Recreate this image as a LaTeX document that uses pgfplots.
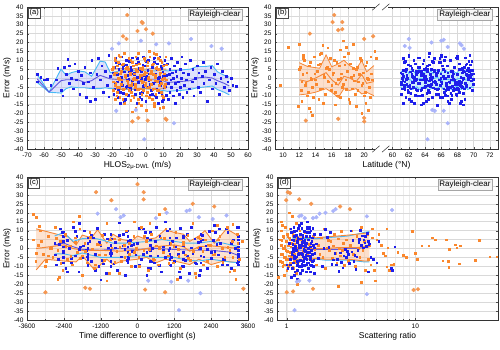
\documentclass[border=0pt]{standalone}
\usepackage{pgfplots}
\pgfplotsset{compat=1.18}
\usepackage{fontspec}
\setmainfont{Liberation Sans}
\definecolor{bpt}{RGB}{30,30,235}
\definecolor{opt}{RGB}{250,135,45}
\definecolor{bbig}{RGB}{170,180,250}
\definecolor{obig}{RGB}{245,150,80}
\definecolor{bline}{RGB}{70,185,245}
\definecolor{bmed}{RGB}{95,85,220}
\definecolor{bfill}{RGB}{185,190,250}
\definecolor{ofill}{RGB}{250,185,140}
\definecolor{oline}{RGB}{245,135,55}
\tikzset{
  tagbox/.style={draw=black!70, fill=white, inner sep=1.2pt, anchor=north west, font=\fontsize{7.5}{8}\selectfont},
  rcbox/.style={draw=gray!70, fill=gray!8, inner sep=1.6pt, anchor=north east, font=\fontsize{8}{9}\selectfont},
}
\pgfplotsset{
  panel/.style={
    scale only axis, width=221pt, height=142pt,
    ymin=-40, ymax=40, ytick={-40,-35,...,40},
    grid=both,
    major grid style={gray!30, line width=0.5pt},
    minor grid style={gray!15, line width=0.4pt},
    tick align=inside, major tick length=2pt, minor tick length=1pt,
    tick style={black!70},
    axis line style={black!80, line width=0.5pt},
    ticklabel style={font=\fontsize{6.5}{7}\selectfont},
    label style={font=\fontsize{8.5}{10}\selectfont},
    /pgf/number format/assume math mode=true,
    /pgf/number format/set thousands separator={},
    ylabel={Error (m/s)},
    ylabel shift=-4pt, xlabel shift=-3pt,
  },
  tags/.style={after end axis/.append code={
    \node[tagbox] at (rel axis cs:0.006,0.992) {(#1)};
    \node[rcbox] at (rel axis cs:0.974,0.986) {Rayleigh-clear};}},
  bp/.style={only marks, mark=square*, mark size=0.85pt, color=bpt, mark options={draw=none}},
  op/.style={only marks, mark=square*, mark size=0.85pt, color=opt, mark options={draw=none}},
  bb/.style={only marks, mark=*, mark size=1.9pt, color=bbig, mark options={draw=none}},
  ob/.style={only marks, mark=*, mark size=1.9pt, color=obig, mark options={draw=none}},
  lat2/.style={x filter/.expression={x-36.5}},
}
\begin{document}
\begin{tikzpicture}
\useasboundingbox (0pt,0pt) rectangle (500pt,349pt);

% ---------------- (a) ----------------
\begin{axis}[panel, tags=a, at={(27pt,200pt)}, xmin=-70, xmax=60, xtick={-70,-60,...,60}, minor x tick num=1,
  xlabel={HLOS\textsubscript{2μ-DWL} (m/s)}]
\addplot[bp] coordinates {(-64,2)(-64,-2)(-62,0.5)(-60,-1)(-58,-0.5)(-56,-4)(-52,5.5)(-50,-7)(-49,-10)(-48,6)(-47,2)(-46,10.5)(-45,-3)(-44,0)(-43,-6)(-42,8)(-41,-1)(-40,4)(-39,-9)(-38,1.5)(-37,-3)(-36,6)(-35,-11)(-34,-2)(-33,3)(-32,10)(-31,-5)(-30,-12)(-29,2)(-28,11)(-27,-1)(-26,7)(-25,-8)(-24,4)(-23,-4)(-22,-10.5)(-21,1)(-22,13)(-33,-13)(-53,-1)(-45,7)};
\addplot[bp] coordinates {(12.5,8)(13,-3)(13,-12)(13.5,2)(14,5)(14,-8)(14.5,-1)(15,11)(15,-5)(15.5,3)(16,-10)(16,0)(16.5,7)(17,-3)(17,-14)(17.5,4)(18,-7)(18,1)(18.5,9)(19,-2)(19.5,-9)(20,5)(20,-5)(20.5,0)(21,12)(21.5,-11)(22,3)(22.5,-4)(23,8)(23.5,-1)(24,-8)(25,2)(25.5,-6)(26,10)(27,-2)(27.5,5)(28,-10)(29,0)(30,7)(30.5,-5)(31,3)(32,-8)(33,1)(33.5,9)(34,-3)(35,4)(36,-13)(37,-1)(38,6)(39,-6)(40,2)(41,-3)(42,8)(43,-9)(44,0)(45,4)(46,-5)(47,1)(48,-2)(49,-7)(50,0)(51,-4)(53,-4.5)};
\addplot[bp] coordinates {(-19.5,3)(-19,-9)(-18.5,-6)(-18,11)(-17.5,9)(-17,-2)(-16.5,-11)(-16,5)(-15.5,0)(-15,-8)(-14.5,12)(-14,-4)(-13.5,7)(-13,-13)(-12.5,1)(-12,-5)(-11.5,10)(-11,-1)(-10.5,-9.5)(-10,4)(-9.5,-7)(-9,6)(-8.5,-3)(-8,11.5)(-7.5,-10)(-7,2)(-6.5,-6.5)(-6,8)(-5.5,-14)(-5,0.5)(-4.5,-2.5)(-4,5.5)(-3.5,-8.5)(-3,3.5)(-2.5,-12)(-2,7.5)(-1.5,-4.5)(-1,1.5)(-0.5,-0.5)(0,9.5)(0.5,-5.5)(1,4.5)(1.5,-1.5)(2,2.5)(2.5,-3.5)(3,3)(3.5,-9)(4,-6)(4.5,11)(5,9)(5.5,-2)(6,-11)(6.5,5)(7,0)(7.5,-8)(8,12)(8.5,-4)(9,7)(9.5,-13)(10,1)(10.5,-5)(11,10)(11.5,-1)(12,-9.5)
(-19.25,-7)(-18.75,6)(-18.25,-3)(-17.75,11.5)(-17.25,-10)(-16.75,2)(-16.25,-6.5)(-15.75,8)(-15.25,-14)(-14.75,0.5)(-14.25,-2.5)(-13.75,5.5)(-13.25,-8.5)(-12.75,3.5)(-12.25,-12)(-11.75,7.5)(-11.25,-4.5)(-10.75,1.5)(-10.25,-0.5)(-9.75,9.5)(-9.25,-5.5)(-8.75,4.5)(-8.25,-1.5)(-7.75,2.5)(-7.25,-3.5)(-6.75,3)(-6.25,-9)(-5.75,-6)(-5.25,11)(-4.75,9)(-4.25,-2)(-3.75,-11)(-3.25,5)(-2.75,0)(-2.25,-8)(-1.75,12)(-1.25,-4)(-0.75,7)(-0.25,-13)(0.25,1)(0.75,-5)(1.25,10)(1.75,-1)(2.25,-9.5)(2.75,4)(3.25,-7)(3.75,6)(4.25,-3)(4.75,11.5)(5.25,-10)(5.75,2)(6.25,-6.5)(6.75,8)(7.25,-14)(7.75,0.5)(8.25,-2.5)(8.75,5.5)(9.25,-8.5)(9.75,3.5)(10.25,-12)(10.75,7.5)(11.25,-4.5)(11.75,1.5)};
\addplot[op] coordinates {(-19.75,5)(-19.25,-7)(-18.75,2)(-18.25,10)(-17.75,-3)(-17.25,-10)(-16.75,7)(-16.25,0)(-15.75,-5)(-15.25,12)(-14.75,-1)(-14.25,4)(-13.75,-12)(-13.25,8)(-12.75,-6)(-12.25,1.5)(-11.75,-9)(-11.25,6)(-10.75,-2)(-10.25,11)(-9.75,-4)(-9.25,3)(-8.75,-8)(-8.25,9)(-7.75,-0.5)(-7.25,-11)(-6.75,2.5)(-6.25,-3.5)(-5.75,7.5)(-5.25,-6.5)(-4.75,14)(-4.25,-14)(-3.75,0.5)(-3.25,5.5)(-2.75,-1.5)(-2.25,5)(-1.75,-7)(-1.25,2)(-0.75,10)(-0.25,-3)(0.25,-10)(0.75,7)(1.25,0)(1.75,-5)(2.25,12)(2.75,-1)(3.25,4)(3.75,-12)(4.25,8)(4.75,-6)(5.25,1.5)(5.75,-9)(6.25,6)(6.75,-2)(7.25,11)(7.75,-4)(8.25,3)(8.75,-8)(9.25,9)(9.75,-0.5)(10.25,-11)(10.75,2.5)(11.25,-3.5)(11.75,7.5)
(-19.5,6)(-19,-2)(-18.5,11)(-18,-4)(-17.5,3)(-17,-8)(-16.5,9)(-16,-0.5)(-15.5,-11)(-15,2.5)(-14.5,-3.5)(-14,7.5)(-13.5,-6.5)(-13,14)(-12.5,-14)(-12,0.5)(-11.5,5.5)(-11,-1.5)(-10.5,5)(-10,-7)(-9.5,2)(-9,10)(-8.5,-3)(-8,-10)(-7.5,7)(-7,0)(-6.5,-5)(-6,12)(-5.5,-1)(-5,4)(-4.5,-12)(-4,8)(-3.5,-6)(-3,1.5)(-2.5,-9)(-2,6)(-1.5,-2)(-1,11)(-0.5,-4)(0,3)(0.5,-8)(1,9)(1.5,-0.5)(2,-11)(2.5,2.5)(3,-3.5)(3.5,7.5)(4,-6.5)(4.5,14)(5,-14)(5.5,0.5)(6,5.5)(6.5,-1.5)(7,5)(7.5,-7)(8,2)(8.5,10)(9,-3)(9.5,-10)(10,7)(10.5,0)(11,-5)(11.5,12)(12,-1)
(-19.6,-2)(-18.35,3)(-17.1,-5)(-15.85,0)(-14.6,4)(-13.35,-6)(-12.1,1)(-10.85,-3)(-9.6,2.5)(-8.35,-4)(-7.1,-1)(-5.85,4.5)(-4.6,-6.5)(-3.35,1.5)(-2.1,-2.5)(-0.85,3.5)(0.4,-5.5)(1.65,0.5)(2.9,-3.5)(4.15,2)(5.4,-1.5)(6.65,-7)(7.9,5)(9.15,-0.5)(10.4,-4.5)
(-13,-14.5)(-6,-17)(5,-16)(8,-17)(10,-16.5)(-16,13)(2,15)(-3,-15.5)(-9,-12.5)(6,13.5)(-8,-19)(0,-18)(-18,-12)};
\addplot[bb] coordinates {(-16,19.5)(-20,16.5)(13.5,19.5)(6,19)(26.5,22)(38.5,18)(44.5,16.5)(-17.5,-18.5)(-6,-18)(-1,-34.5)(16.5,-25.5)(-3,21)};
\addplot[ob] coordinates {(-11,35.5)(-2.5,31.5)(-2,31)(-5,26.5)(0,27.5)(4,25)(-13.5,23.5)(-11.5,22)(-8,-24.5)(-4.5,-22.5)(1,-24)(11.5,-23)(12,-23.5)};
\addplot[fill=bfill, fill opacity=0.45, draw=none] coordinates {(-64,2)(-57,-8)(-50,5)(-47,1.5)(-44,3)(-40,4)(-36,3.5)(-32,1)(-27,9.5)(-24,9)(-21,3)(-15,4)(-10,4.5)(-5,4)(0,4.5)(5,4)(10,4.5)(12.5,4)(20,4.5)(26,5)(30,6.5)(35,6.5)(39,7)(42,3.5)(46,1.5)(49,0.5)
(49,-9.5)(46,-8)(42,-6.5)(39,-4.5)(35,-5)(30,-5.5)(26,-6.5)(20,-7)(12.5,-7.5)(10,-7)(5,-6.5)(0,-6)(-5,-6)(-10,-6.5)(-15,-6)(-21,-6)(-24,-5.5)(-27,-6)(-32,-6)(-36,-5.5)(-40,-5.5)(-44,-5)(-47,-6)(-50,-8.5)(-57,-8)(-64,-2.5)};
\addplot[bline, line width=0.9pt] coordinates {(-64,2)(-57,-8)(-50,5)(-47,1.5)(-44,3)(-40,4)(-36,3.5)(-32,1)(-27,9.5)(-24,9)(-21,3)(-15,4)(-10,4.5)(-5,4)(0,4.5)(5,4)(10,4.5)(12.5,4)(20,4.5)(26,5)(30,6.5)(35,6.5)(39,7)(42,3.5)(46,1.5)(49,0.5)};
\addplot[bline, line width=0.9pt] coordinates {(-64,-2.5)(-57,-8)(-50,-8.5)(-47,-6)(-44,-5)(-40,-5.5)(-36,-5.5)(-32,-6)(-27,-6)(-24,-5.5)(-21,-6)(-15,-6)(-10,-6.5)(-5,-6)(0,-6)(5,-6.5)(10,-7)(12.5,-7.5)(20,-7)(26,-6.5)(30,-5.5)(35,-5)(39,-4.5)(42,-6.5)(46,-8)(49,-9.5)};
\addplot[bmed, line width=0.9pt] coordinates {(-64,-0.5)(-57,-8)(-50,-1.5)(-47,-1)(-44,-1)(-40,-1)(-36,-2.5)(-32,-1.5)(-27,1.5)(-24,0.5)(-21,-0.5)(-15,-1)(-10,-1)(-5,-1.5)(0,-1)(5,-1)(10,-1.5)(12.5,-2.5)(20,-2)(26,-1.5)(30,0)(35,0.5)(39,0)(42,-1.5)(46,-3)(49,-4.5)};
\addplot[fill=ofill, fill opacity=0.25, draw=none] coordinates {(-19,5)(-15,5.5)(-10,5)(-5,5.5)(0,5)(5,5.5)(10,5)(12,5)(12,-6)(10,-6)(5,-6.5)(0,-6)(-5,-6.5)(-10,-6)(-15,-6.5)(-19,-6)};
\addplot[oline!70!gray, line width=0.8pt] coordinates {(-19,5)(-15,5.5)(-10,5)(-5,5.5)(0,5)(5,5.5)(10,5)(12,5)};
\addplot[oline!70!gray, line width=0.8pt] coordinates {(-19,-6)(-15,-6.5)(-10,-6)(-5,-6.5)(0,-6)(5,-6.5)(10,-6)(12,-6)};
\end{axis}

% ---------------- (b) ----------------
\begin{axis}[panel, tags=b, at={(275pt,200pt)}, width=223pt, xmin=9, xmax=36.5,
  xtick={10,12,14,16,18,20,23.5,25.5,27.5,29.5,31.5,33.5,35.5},
  xticklabels={10,12,14,16,18,20,60,62,64,66,68,70,72},
  minor xtick={9,11,13,15,17,19,21,24.5,26.5,28.5,30.5,32.5,34.5,36.5},
  xlabel={Latitude (°N)},
  after end axis/.append code={
    \fill[white] (axis cs:21.3,38.6) rectangle (axis cs:22.9,41.4);
    \fill[white] (axis cs:21.3,-41.4) rectangle (axis cs:22.9,-38.6);
    \draw[black!80, line width=0.5pt] (axis cs:21.0,38.2) -- (axis cs:21.9,41.8) (axis cs:22.2,38.2) -- (axis cs:23.1,41.8);
    \draw[black!80, line width=0.5pt] (axis cs:21.0,-41.8) -- (axis cs:21.9,-38.2) (axis cs:22.2,-41.8) -- (axis cs:23.1,-38.2);
  }]
\addplot[op] coordinates {(12.0,5)(12.2,-7)(12.4,2)(12.6,10)(12.8,-3)(13.0,-10)(13.2,7)(13.4,0)(13.6,-5)(13.8,12)(14.0,-1)(14.2,4)(14.4,-12)(14.6,8)(14.8,-6)(15.0,1.5)(15.2,-9)(15.4,6)(15.6,-2)(15.8,11)(16.0,-4)(16.2,3)(16.4,-8)(16.6,9)(16.8,-0.5)(17.0,-11)(17.2,2.5)(17.4,-3.5)(17.6,7.5)(17.8,-6.5)(18.0,14)(18.2,-14)(18.4,0.5)(18.6,5.5)(18.8,-1.5)(19.0,5)(19.2,-7)(19.4,2)(19.6,10)(19.8,-3)(20.0,-10)(20.2,7)(20.4,0)(20.6,-5)(20.8,12)(21.0,-1)
(12.1,6)(12.3,-2)(12.5,11)(12.7,-4)(12.9,3)(13.1,-8)(13.3,9)(13.5,-0.5)(13.7,-11)(13.9,2.5)(14.1,-3.5)(14.3,7.5)(14.5,-6.5)(14.7,14)(14.9,-14)(15.1,0.5)(15.3,5.5)(15.5,-1.5)(15.7,5)(15.9,-7)(16.1,2)(16.3,10)(16.5,-3)(16.7,-10)(16.9,7)(17.1,0)(17.3,-5)(17.5,12)(17.7,-1)(17.9,4)(18.1,-12)(18.3,8)(18.5,-6)(18.7,1.5)(18.9,-9)(19.1,6)(19.3,-2)(19.5,11)(19.7,-4)(19.9,3)(20.1,-8)(20.3,9)(20.5,-0.5)(20.7,-11)(20.9,2.5)
(9.6,-4)(10.6,17.5)(11.9,-16)(12,19)(12.3,-13)(13.2,-17)(13.4,-19)(13.6,-21)(15,-14)(15.5,17)(17,16)(17.8,17.5)(18.6,19)(19,-16)(19.7,-20)(20.5,-18)(21.3,15)(21.5,11)(14.5,13.5)(16.4,-15)(18.2,-13.5)(12.5,13)(20.2,-14)(17.4,21)(14.9,18.5)};
\addplot[ob] coordinates {(13.3,25)(12.8,-24)(16.3,35.5)(16.1,31.5)(17.3,31.5)(17.3,27.5)(16.8,27)(16.8,-23)(20,22)(20,-22.5)(20,-24.5)(21.1,23.5)};
\addplot[fill=ofill, fill opacity=0.45, draw=none] coordinates {(12,8.6)(13,6.5)(14.5,5.5)(15.3,13)(16,6.3)(16.8,8)(17.5,10)(18.2,7)(19,5)(19.7,9.8)(20.3,3.5)(21.2,7)
(21.2,-10)(20.3,-8)(19.7,-9)(19,-6)(18.2,-7)(17.5,-6)(16.8,-11)(16,-8)(15.3,-6)(14,-8)(13,-9)(12,-9.5)};
\addplot[oline, line width=0.8pt] coordinates {(12,8.6)(13,6.5)(14.5,5.5)(15.3,13)(16,6.3)(16.8,8)(17.5,10)(18.2,7)(19,5)(19.7,9.8)(20.3,3.5)(21.2,7)};
\addplot[oline, line width=0.8pt] coordinates {(12,-9.5)(13,-9)(14,-8)(15.3,-6)(16,-8)(16.8,-11)(17.5,-6)(18.2,-7)(19,-6)(19.7,-9)(20.3,-8)(21.2,-10)};
\addplot[oline, line width=0.9pt] coordinates {(12,-1)(13,-2)(14,0)(15.3,3)(16,-1)(16.8,-4)(17.5,1)(18.2,0)(19,-2)(19.7,2)(20.3,-3)(21.2,-2)};
\addplot[bp, lat2] coordinates {(61.0,3)(61.1,-9)(61.2,-6)(61.3,11)(61.4,9)(61.5,-2)(61.6,-11)(61.7,5)(61.8,0)(61.9,-8)(62.0,12)(62.1,-4)(62.2,7)(62.3,-13)(62.4,1)(62.5,-5)(62.6,10)(62.7,-1)(62.8,-9.5)(62.9,4)(63.0,-7)(63.1,6)(63.2,-3)(63.3,11.5)(63.4,-10)(63.5,2)(63.6,-6.5)(63.7,8)(63.8,-14)(63.9,0.5)(64.0,-2.5)(64.1,5.5)(64.2,-8.5)(64.3,3.5)(64.4,-12)(64.5,7.5)(64.6,-4.5)(64.7,1.5)(64.8,-0.5)(64.9,9.5)(65.0,-5.5)(65.1,4.5)(65.2,-1.5)(65.3,2.5)(65.4,-3.5)
(65.5,3)(65.6,-9)(65.7,-6)(65.8,11)(65.9,9)(66.0,-2)(66.1,-11)(66.2,5)(66.3,0)(66.4,-8)(66.5,12)(66.6,-4)(66.7,7)(66.8,-13)(66.9,1)(67.0,-5)(67.1,10)(67.2,-1)(67.3,-9.5)(67.4,4)(67.5,-7)(67.6,6)(67.7,-3)(67.8,11.5)(67.9,-10)(68.0,2)(68.1,-6.5)(68.2,8)(68.3,-14)(68.4,0.5)(68.5,-2.5)(68.6,5.5)(68.7,-8.5)(68.8,3.5)(68.9,-12)(69.0,7.5)(69.1,-4.5)(69.2,1.5)(69.3,-0.5)(69.4,9.5)(69.5,-5.5)(69.6,4.5)(69.7,-1.5)(69.8,2.5)(69.9,-3.5)
(61.05,-3.5)(61.15,2.5)(61.25,-1.5)(61.35,4.5)(61.45,-5.5)(61.55,9.5)(61.65,-0.5)(61.75,1.5)(61.85,-4.5)(61.95,7.5)(62.05,-12)(62.15,3.5)(62.25,-8.5)(62.35,5.5)(62.45,-2.5)(62.55,0.5)(62.65,-14)(62.75,8)(62.85,-6.5)(62.95,2)(63.05,-10)(63.15,11.5)(63.25,-3)(63.35,6)(63.45,-7)(63.55,4)(63.65,-9.5)(63.75,-1)(63.85,10)(63.95,-5)(64.05,1)(64.15,-13)(64.25,7)(64.35,-4)(64.45,12)(64.55,-8)(64.65,0)(64.75,5)(64.85,-11)(64.95,-2)(65.05,9)(65.15,11)(65.25,-6)(65.35,-9)(65.45,3)
(65.55,3)(65.65,-6)(65.75,9)(65.85,-11)(65.95,0)(66.05,12)(66.15,7)(66.25,1)(66.35,10)(66.45,-9.5)(66.55,-7)(66.65,-3)(66.75,-10)(66.85,-6.5)(66.95,-14)(67.05,-2.5)(67.15,-8.5)(67.25,-12)(67.35,-4.5)(67.45,-0.5)(67.55,-5.5)(67.65,-1.5)(67.75,-3.5)(67.85,-9)(67.95,11)(68.05,-2)(68.15,5)(68.25,-8)(68.35,-4)(68.45,-13)(68.55,-5)(68.65,-1)(68.75,4)(68.85,6)(68.95,11.5)(69.05,2)(69.15,8)(69.25,0.5)(69.35,5.5)(69.45,3.5)(69.55,7.5)(69.65,1.5)(69.75,9.5)(69.85,4.5)(69.95,2.5)
(61.03,-2)(61.15,0)(61.27,1)(61.39,-4)(61.51,-6.5)(61.63,3.5)(61.75,-3.5)(61.87,-7)(61.99,-4.5)(62.11,-5)(62.23,-6)(62.35,2.5)(62.47,4.5)(62.59,-2.5)(62.71,0.5)(62.83,-1.5)(62.95,-0.5)(63.07,3)(63.19,4)(63.31,-3)(63.43,-1)(63.55,1.5)(63.67,-5.5)(63.79,2)(63.91,5)
(64.03,-4.5)(64.15,-0.5)(64.27,5)(64.39,-7)(64.51,-1.5)(64.63,2)(64.75,-3.5)(64.87,0.5)(64.99,-5.5)(65.11,3.5)(65.23,-2.5)(65.35,1.5)(65.47,-6.5)(65.59,4.5)(65.71,-1)(65.83,-4)(65.95,2.5)(66.07,-3)(66.19,1)(66.31,-6)(66.43,4)(66.55,0)(66.67,-5)(66.79,3)(66.91,-2)
(67.03,-2)(67.15,-5)(67.27,4)(67.39,1)(67.51,2.5)(67.63,-1)(67.75,-6.5)(67.87,-2.5)(67.99,-5.5)(68.11,-3.5)(68.23,-1.5)(68.35,5)(68.47,-4.5)(68.59,3)(68.71,0)(68.83,-6)(68.95,-3)(69.07,-4)(69.19,4.5)(69.31,1.5)(69.43,3.5)(69.55,0.5)(69.67,2)(69.79,-7)(69.91,-0.5)
(61.3,-14)(62,13)(63.5,-15)(64.5,14)(65.5,-15.5)(66,13)(67,-14.5)(68,12.5)(68.7,-15)(69.5,13)};
\addplot[fill=bline!60!white, fill opacity=0.45, draw=none, lat2] coordinates {(61,3)(61.25,4.5)(61.5,3.5)(61.75,5)(62,2.5)(62.25,4)(62.5,4.5)(62.75,3)(63,3.5)(63.25,5)(63.5,4)(63.75,3)(64,3.5)(64.25,4.5)(64.5,3)(64.75,4)(65,2.5)(65.25,4)(65.5,4.5)(65.75,3.5)(66,3)(66.25,5)(66.5,4.5)(66.75,3.5)(67,3.5)(67.25,4.5)(67.5,4)(67.75,3)(68,3)(68.25,5)(68.5,5.5)(68.75,4)(69,4)(69.25,5.5)(69.5,5)(69.75,4)(70,4)
(70,-5.5)(69.75,-5)(69.5,-6)(69.25,-6.5)(69,-5)(68.75,-5.5)(68.5,-6.5)(68.25,-6)(68,-4.5)(67.75,-5)(67.5,-6)(67.25,-6.5)(67,-5.5)(66.75,-6)(66.5,-7)(66.25,-6.5)(66,-5)(65.75,-5)(65.5,-6)(65.25,-6.5)(65,-5.5)(64.75,-6)(64.5,-7)(64.25,-6)(64,-4.5)(63.75,-5)(63.5,-6)(63.25,-6.5)(63,-5)(62.75,-5.5)(62.5,-6.5)(62.25,-6)(62,-4.5)(61.75,-5)(61.5,-6)(61.25,-6.5)(61,-5)};
\addplot[bline, line width=0.8pt, lat2] coordinates {(61,3)(61.25,4.5)(61.5,3.5)(61.75,5)(62,2.5)(62.25,4)(62.5,4.5)(62.75,3)(63,3.5)(63.25,5)(63.5,4)(63.75,3)(64,3.5)(64.25,4.5)(64.5,3)(64.75,4)(65,2.5)(65.25,4)(65.5,4.5)(65.75,3.5)(66,3)(66.25,5)(66.5,4.5)(66.75,3.5)(67,3.5)(67.25,4.5)(67.5,4)(67.75,3)(68,3)(68.25,5)(68.5,5.5)(68.75,4)(69,4)(69.25,5.5)(69.5,5)(69.75,4)(70,4)};
\addplot[bline, line width=0.8pt, lat2] coordinates {(61,-5)(61.25,-6.5)(61.5,-6)(61.75,-5)(62,-4.5)(62.25,-6)(62.5,-6.5)(62.75,-5.5)(63,-5)(63.25,-6.5)(63.5,-6)(63.75,-5)(64,-4.5)(64.25,-6)(64.5,-7)(64.75,-6)(65,-5.5)(65.25,-6.5)(65.5,-6)(65.75,-5)(66,-5)(66.25,-6.5)(66.5,-7)(66.75,-6)(67,-5.5)(67.25,-6.5)(67.5,-6)(67.75,-5)(68,-4.5)(68.25,-6)(68.5,-6.5)(68.75,-5.5)(69,-5)(69.25,-6.5)(69.5,-6)(69.75,-5)(70,-5.5)};
\addplot[bline, line width=0.8pt, lat2] coordinates {(61,-1)(61.5,0)(62,-0.5)(62.5,-2)(63,-1.5)(63.5,0)(64,-1)(64.5,-2)(65,-0.5)(65.5,0.5)(66,-1.5)(66.5,-0.5)(67,-1)(67.5,-2)(68,-0.5)(68.5,0)(69,-1)(69.5,-1.5)(70,-1)};
\addplot[bb, lat2] coordinates {(61.5,18)(62,22)(62.1,17)(64.8,20)(66,21)(66.3,21.5)(66.8,17.5)(68.3,19.5)(68.5,18.5)(68.8,16.5)(64.3,-34.5)(64.9,-18)(65.2,-18.5)(66.3,-18.5)(66.8,-25.5)};
\end{axis}

% ---------------- (c) ----------------
\begin{axis}[panel, tags=c, at={(27pt,29pt)}, height=143pt, xmin=-3600, xmax=3600, xtick={-3600,-2400,...,3600}, minor x tick num=1,
  xlabel={Time difference to overflight (s)}]
\addplot[bp] coordinates {(-2700,3)(-2640,-9)(-2580,-6)(-2520,11)(-2460,9)(-2400,-2)(-2340,-11)(-2280,5)(-2220,0)(-2160,-8)(-2100,12)(-2040,-4)(-1980,7)(-1920,-13)(-1860,1)(-1800,-5)(-1740,10)(-1680,-1)(-1620,-9.5)(-1560,4)(-1500,-7)(-1440,6)(-1380,-3)(-1320,11.5)(-1260,-10)(-1200,2)(-1140,-6.5)(-1080,8)(-1020,-14)(-960,0.5)(-900,-2.5)(-840,5.5)(-780,-8.5)(-720,3.5)(-660,-12)(-600,7.5)(-540,-4.5)(-480,1.5)(-420,-0.5)(-360,9.5)(-300,-5.5)(-240,4.5)(-180,-1.5)(-120,2.5)(-60,-3.5)(0,3)(60,-9)(120,-6)(180,11)(240,9)(300,-2)(360,-11)(420,5)(480,0)(540,-8)(600,12)(660,-4)(720,7)(780,-13)(840,1)(900,-5)(960,10)(1020,-1)(1080,-9.5)(1140,4)(1200,-7)(1260,6)(1320,-3)(1380,11.5)(1440,-10)(1500,2)(1560,-6.5)(1620,8)(1680,-14)(1740,0.5)(1800,-2.5)(1860,5.5)(1920,-8.5)(1980,3.5)(2040,-12)(2100,7.5)(2160,-4.5)(2220,1.5)(2280,-0.5)(2340,9.5)(2400,-5.5)(2460,4.5)(2520,-1.5)(2580,2.5)(2640,-3.5)(2700,3)(2760,-9)(2820,-6)(2880,11)(2940,9)(3000,-2)(3060,-11)(3120,5)(3180,0)(3240,-8)(3300,12)
(-2670,-3.5)(-2540,2.5)(-2410,-1.5)(-2280,4.5)(-2150,-5.5)(-2020,9.5)(-1890,-0.5)(-1760,1.5)(-1630,-4.5)(-1500,7.5)(-1370,-12)(-1240,3.5)(-1110,-8.5)(-980,5.5)(-850,-2.5)(-720,0.5)(-590,-14)(-460,8)(-330,-6.5)(-200,2)(-70,-10)(60,11.5)(190,-3)(320,6)(450,-7)(580,4)(710,-9.5)(840,-1)(970,10)(1100,-5)(1230,1)(1360,-13)(1490,7)(1620,-4)(1750,12)(1880,-8)(2010,0)(2140,5)(2270,-11)(2400,-2)(2530,9)(2660,11)(2790,-6)(2920,-9)(3050,3)
(-2420,-8)(-2420,-5)(-2420,-2)(-2420,1)(-2420,4)(-2420,7)(-2420,9)(-1620,-9)(-1620,-6)(-1620,-3)(-1620,0)(-1620,3)(-1620,6)(-870,-10)(-870,-7)(-870,-4)(-870,-1)(-870,2)(-870,5)(-870,8)(-320,-8)(-320,-5)(-320,-2)(-320,1)(-320,4)(-320,7)(-320,10)(420,-11)(420,-7)(420,-4)(420,-1)(420,2)(420,5)(420,9)(1050,-9)(1050,-6)(1050,-3)(1050,0)(1050,3)(1050,6)(1050,11)(1480,-10)(1480,-6)(1480,-2)(1480,2)(1480,6)(2060,-12)(2060,-8)(2060,-4)(2060,0)(2060,4)(2060,8)(3270,-9)(3270,-7)(3270,-5)(3270,-3)(3270,-1)(3270,1)(3270,3)(3270,5)(3270,7)
(-1900,14)(-1200,-17.5)(-600,14.5)(300,-15)(900,15)(1400,-16)(2000,-15)(2500,13)(-2300,-13)(3250,12)(-400,-15)};
\addplot[op] coordinates {(-3400,5)(-3320,-7)(-3240,2)(-3160,10)(-3080,-3)(-3000,-10)(-2920,7)(-2840,0)(-2760,-5)(-2680,12)(-2600,-1)(-2520,4)(-2440,-12)(-2360,8)(-2280,-6)(-2200,1.5)(-2120,-9)(-2040,6)(-1960,-2)(-1880,11)(-1800,-4)(-1720,3)(-1640,-8)(-1560,9)(-1480,-0.5)(-1400,-11)(-1320,2.5)(-1240,-3.5)(-1160,7.5)(-1080,-6.5)(-1000,14)(-920,-14)(-840,0.5)(-760,5.5)(-680,-1.5)(-600,5)(-520,-7)(-440,2)(-360,10)(-280,-3)(-200,-10)(-120,7)(-40,0)(40,-5)(120,12)(200,-1)(280,4)(360,-12)(440,8)(520,-6)(600,1.5)(680,-9)(760,6)(840,-2)(920,11)(1000,-4)(1080,3)(1160,-8)(1240,9)(1320,-0.5)(1400,-11)(1480,2.5)(1560,-3.5)(1640,7.5)(1720,-6.5)(1800,14)(1880,-14)(1960,0.5)(2040,5.5)(2120,-1.5)(2200,5)(2280,-7)(2360,2)(2440,10)(2520,-3)(2600,-10)(2680,7)(2760,0)(2840,-5)(2920,12)(3000,-1)(3080,4)(3160,-12)(3240,8)(3320,-6)
(-3300,-2.8)(-3140,4.2)(-2980,-7)(-2820,0)(-2660,5.6)(-2500,-8.4)(-2340,1.4)(-2180,-4.2)(-2020,3.5)(-1860,-5.6)(-1700,-1.4)(-1540,6.3)(-1380,-9.1)(-1220,2.1)(-1060,-3.5)(-900,4.9)(-740,-7.7)(-580,0.7)(-420,-4.9)(-260,2.8)(-100,-2.1)(60,-9.8)(220,7)(380,-0.7)(540,-6.3)(700,0)(860,5.6)(1020,-8.4)(1180,1.4)(1340,-4.2)(1500,3.5)(1660,-5.6)(1820,-1.4)(1980,6.3)(2140,-9.1)(2300,2.1)(2460,-3.5)(2620,4.9)(2780,-7.7)(2940,0.7)(3100,-4.9)(3260,2.8)
(-3400,19)(-3300,17.5)(-3200,12.5)(-2900,-4)(-2600,-17)(-2550,-16)(-1900,18)(-1800,-15)(-1000,-18)(-600,-14)(400,14)(700,19)(1300,-17)(1900,-16)(2600,13)(3000,-13)(3200,-17)(3400,4)(3100,13.5)(-2100,15)(-100,15)};
\addplot[fill=ofill, fill opacity=0.4, draw=none] coordinates {(-3300,11)(-2400,7)(-2250,6.5)(-2000,2)(-1800,7.5)(-1500,6)(-1300,10.5)(-1000,3)(-800,8)(-500,5)(-200,4)(0,7)(300,5)(600,6)(900,10.5)(1200,9)(1500,8)(1700,4)(2000,7)(2200,10)(2500,3)(2900,11)(3300,7)
(3300,-8)(2800,-7)(2400,-9)(2000,-6)(1700,-9)(1200,-7)(900,-6)(600,-8)(300,-5)(0,-6)(-500,-7)(-800,-9)(-1000,-6)(-1400,-12)(-1800,-4)(-2000,-7.5)(-2400,-7)(-3000,-6)(-3300,-12)};
\addplot[oline, line width=0.9pt] coordinates {(-3300,11)(-2400,7)(-2250,6.5)(-2000,2)(-1800,7.5)(-1500,6)(-1300,10.5)(-1000,3)(-800,8)(-500,5)(-200,4)(0,7)(300,5)(600,6)(900,10.5)(1200,9)(1500,8)(1700,4)(2000,7)(2200,10)(2500,3)(2900,11)(3300,7)};
\addplot[oline, line width=0.9pt] coordinates {(-3300,-12)(-3000,-6)(-2400,-7)(-2000,-7.5)(-1800,-4)(-1400,-12)(-1000,-6)(-800,-9)(-500,-7)(0,-6)(300,-5)(600,-8)(900,-6)(1200,-7)(1700,-9)(2000,-6)(2400,-9)(2800,-7)(3300,-8)};
\addplot[bline, line width=0.9pt] coordinates {(-2700,7)(-2400,9)(-2100,4)(-1800,5.5)(-1500,6)(-1200,5)(-800,3)(-400,3)(0,3.5)(400,4)(800,5)(1200,4)(1600,3)(2000,3)(2400,4)(2800,3)(3300,1)};
\addplot[bline, line width=0.9pt] coordinates {(-2700,-3)(-2400,-3)(-2100,-4)(-1800,-2.5)(-1200,-5)(-600,-5)(0,-4)(600,-5)(1200,-5)(1600,-6.5)(2000,-7)(2400,-6)(3000,-7.5)(3300,-8)};
\addplot[bmed, line width=0.9pt] coordinates {(-2700,2)(-2400,3)(-2100,1)(-1800,-0.5)(-1200,-1)(-600,0)(0,-0.5)(600,0)(1200,-0.5)(1800,-1)(2400,-1)(3000,-2)(3300,-4)};
\addplot[oline, line width=1pt] coordinates {(-3300,0)(-2400,2)(-2100,0)(-1800,-1)(-1200,-1)(-600,-1.5)(0,-1)(600,1)(900,1.5)(1200,2)(1500,1)(1700,-1.5)(2000,1)(2400,1.5)(3300,0)};
\addplot[bb] coordinates {(-1300,19.5)(-700,22)(-550,17.5)(-450,18.5)(600,17)(950,20)(1600,21)(1700,21.5)(2000,17.5)(2450,16.5)(2900,18.5)(350,-18)(1100,-18.6)(1650,-18)(2050,-25)(1350,-34.5)};
\addplot[ob] coordinates {(-3000,-24.5)(-1350,31.5)(-850,27)(0,36)(200,31.5)(200,27.5)(900,22)(1800,25)(2500,23.5)(-1550,-22.5)(-1700,-22)(250,-23)(900,-24.5)(3450,-22.5)};
\end{axis}

% ---------------- (d) ----------------
\begin{axis}[panel, tags=d, at={(277pt,29pt)}, height=143pt, xmode=log, xmin=0.84, xmax=44, xtick={1,10}, xticklabels={1,10},
  xlabel={Scattering ratio}]
\addplot[op] coordinates {(0.88,5)(0.89,-7)(0.90,2)(0.91,10)(0.92,-3)(0.93,-10)(0.94,7)(0.95,0)(0.96,-5)(0.97,12)(0.98,-1)(0.99,4)(1.00,-12)(1.01,8)(1.02,-6)(1.03,1.5)(1.04,-9)(1.05,6)(1.06,-2)(1.07,11)(1.08,-4)(1.09,3)(1.10,-8)(1.11,9)(1.12,-0.5)(1.13,-11)(1.14,2.5)(1.15,-3.5)(1.16,7.5)(1.17,-6.5)(1.18,14)(1.19,-14)(1.20,0.5)(1.21,5.5)(1.22,-1.5)(1.23,5)(1.24,-7)(1.25,2)(1.26,10)(1.27,-3)(1.28,-10)
(0.905,-3)(0.915,4.5)(0.925,-7.5)(0.935,0)(0.945,6)(0.955,-9)(0.965,1.5)(0.975,-4.5)(0.985,4)(0.995,-6)(1.005,-1.5)(1.015,7)(1.025,-10)(1.035,2)(1.045,-4)(1.055,5)(1.065,-8)(1.075,1)(1.085,-5)(1.095,3)(1.105,-2)(1.115,-10.5)(1.125,7.5)(1.135,-1)(1.145,-7)(1.155,-3)(1.165,4.5)(1.175,-7.5)(1.185,0)(1.195,6)(1.205,-9)
(1.30,5)(1.35,-1.5)(1.40,9)(1.45,-3)(1.50,2.5)(1.55,-6.5)(1.60,7)(1.65,-0.5)(1.70,-9)(1.75,2)(1.80,-3)(1.85,6)(1.90,-5)(1.95,11)(2.00,-11)(2.05,0.5)(2.10,4.5)(2.15,-1)(2.20,4)(2.25,-5.5)(2.30,1.5)(2.35,8)(2.40,-2.5)(2.45,-8)(2.50,5.5)(2.55,0)(2.60,-4)(2.65,9.5)(2.70,-1)(2.75,3)(2.80,-9.5)
(2.9,5)(3.0,-7)(3.1,2)(3.2,10)(3.3,-3)(3.4,-10)(3.5,7)(3.6,0)(3.7,-5)(3.8,12)(3.9,-1)(4.0,4)(4.1,-12)(4.2,8)(4.3,-6)(4.4,1.5)(4.5,-9)(4.6,6)
(5.6,-2.6)(6.0,11.1)(6.1,0.4)(6.0,-10.2)(6.8,-8.7)(7.3,-2.1)(8.1,-3.6)(8.5,-5)(9.5,9.8)(10,-2.6)(10.4,-5.9)(11.2,1.5)(12.7,1.5)(13.6,6)(14.3,5)(16.3,-6.8)(17.5,4.9)(18,-7)(18.2,-10.6)(18.3,-0.2)(20.4,2.2)(21,0.4)(21.9,-8.5)(22.3,1.5)(29.1,-6.4)(31.3,4.5)(38,-4.6)(43,-4.5)(4.8,-12)(5.2,8)(4.9,-18)(5.4,2)(3.8,-19)(2.5,-21)(1.2,-20)(0.9,15)(1.1,18)(0.95,-15)(1.05,20)(4.6,11)(5.0,5)(5.8,-4)(6.3,-12)(6.5,-9)(0.86,-16)(0.92,13)};
\addplot[bp] coordinates {(1.050,3)(1.058,-9)(1.066,-6)(1.074,11)(1.082,9)(1.090,-2)(1.098,-11)(1.106,5)(1.114,0)(1.122,-8)(1.130,12)(1.138,-4)(1.146,7)(1.154,-13)(1.162,1)(1.170,-5)(1.178,10)(1.186,-1)(1.194,-9.5)(1.202,4)(1.210,-7)(1.218,6)(1.226,-3)(1.234,11.5)(1.242,-10)(1.250,2)(1.258,-6.5)(1.266,8)(1.274,-14)(1.282,0.5)(1.290,-2.5)(1.298,5.5)(1.306,-8.5)(1.314,3.5)(1.322,-12)(1.330,7.5)(1.338,-4.5)(1.346,1.5)(1.354,-0.5)(1.362,9.5)(1.370,-5.5)(1.378,4.5)(1.386,-1.5)(1.394,2.5)(1.402,-3.5)(1.410,3)(1.418,-9)(1.426,-6)(1.434,11)(1.442,9)(1.450,-2)(1.458,-11)(1.466,5)(1.474,0)(1.482,-8)(1.490,12)(1.498,-4)(1.506,7)(1.514,-13)(1.522,1)(1.530,-5)(1.538,10)(1.546,-1)(1.554,-9.5)(1.562,4)(1.570,-7)(1.578,6)(1.586,-3)(1.594,11.5)(1.602,-10)(1.610,2)(1.618,-6.5)(1.626,8)(1.634,-14)(1.642,0.5)(1.650,-2.5)
(1.10,-3.5)(1.11,2.5)(1.12,-1.5)(1.13,4.5)(1.14,-5.5)(1.15,9.5)(1.16,-0.5)(1.17,1.5)(1.18,-4.5)(1.19,7.5)(1.20,-12)(1.21,3.5)(1.22,-8.5)(1.23,5.5)(1.24,-2.5)(1.25,0.5)(1.26,-14)(1.27,8)(1.28,-6.5)(1.29,2)(1.30,-10)(1.31,11.5)(1.32,-3)(1.33,6)(1.34,-7)(1.35,4)(1.36,-9.5)(1.37,-1)(1.38,10)(1.39,-5)(1.40,1)(1.41,-13)(1.42,7)(1.43,-4)(1.44,12)(1.45,-8)(1.46,0)(1.47,5)(1.48,-11)(1.49,-2)(1.50,9)(1.51,11)(1.52,-6)(1.53,-9)(1.54,3)
(1.70,2.7)(1.76,-5.4)(1.82,8.1)(1.88,-9.9)(1.94,0)(2.00,10.8)(2.06,6.3)(2.12,0.9)(2.18,9)(2.24,-8.6)(2.30,-6.3)(2.36,-2.7)(2.42,-9)(2.48,-5.9)(2.54,-12.6)(2.60,-2.3)(2.66,-7.7)(2.72,-10.8)(2.78,-4.1)(2.84,-0.5)(2.90,-5)(2.96,-1.4)(3.02,-3.2)(3.08,-8.1)(3.14,9.9)(3.20,-1.8)(3.26,4.5)(3.32,-7.2)(3.38,-3.6)(3.44,-11.7)(3.50,-4.5)(3.56,-0.9)(3.62,3.6)(3.68,5.4)(3.74,10.4)(3.80,1.8)(3.86,7.2)(3.92,0.5)(3.98,5)(4.04,3.2)(4.10,6.8)(4.16,1.4)(4.22,8.6)(4.28,4.1)(4.34,2.3)(4.40,2.7)
(4.5,-5)(4.7,-6)(5.2,4)(6.5,-11)(6.6,-12)(6.9,1)(5.0,-8)(4.3,-13)(1.08,-16)(1.15,-15)(1.2,-17)(1.25,13)(1.3,14)(1.45,15)(1.0,-9)(1.02,-11)};
\addplot[fill=ofill, fill opacity=0.45, draw=none] coordinates {(1.1,7)(1.2,6.5)(1.3,6.5)(1.5,6)(1.7,6)(2,6.5)(2.5,7)(3,7.5)(3.5,8)(4,8.5)(4.4,9)
(4.4,-7)(4,-7)(3.5,-6.5)(3,-6)(2.5,-6)(2,-6)(1.7,-5.5)(1.5,-6)(1.3,-6)(1.2,-6)(1.1,-5.5)};
\addplot[bline, line width=0.9pt] coordinates {(1.1,6)(1.2,5.5)(1.3,5.5)(1.5,5.5)(1.7,5.5)(2,6)(2.5,6.5)(3,7)(3.5,8)(4,9)(4.4,9.5)};
\addplot[bline, line width=0.9pt] coordinates {(1.1,-6)(1.2,-6)(1.3,-6.5)(1.5,-6)(1.7,-6)(2,-6.5)(2.5,-6.5)(3,-6.5)(3.5,-7)(4,-7.5)(4.4,-7.5)};
\addplot[oline, line width=0.9pt] coordinates {(1.1,7)(1.2,6.5)(1.3,6.5)(1.5,6)(1.7,6)(2,6.5)(2.5,7)(3,7.5)(3.5,8)(4,8.5)(4.4,9)};
\addplot[oline, line width=0.9pt] coordinates {(1.1,-5.5)(1.2,-6)(1.3,-6)(1.5,-6)(1.7,-5.5)(2,-6)(2.5,-6)(3,-6)(3.5,-6.5)(4,-7)(4.4,-7)};
\addplot[bmed, line width=0.9pt] coordinates {(1.1,-0.5)(1.2,-0.5)(1.3,-1)(1.5,-0.5)(1.7,-0.5)(2,-0.5)(2.5,-0.5)(3,0)(3.5,0)(4,0.5)(4.4,1)};
\addplot[oline, line width=1pt] coordinates {(1.1,0)(1.2,0)(1.3,0.5)(1.5,0)(1.7,0)(2,0)(2.5,0.5)(3,0.5)(3.5,0.5)(4,1)(4.4,1)};
\addplot[bb] coordinates {(1.3,18.5)(1.38,17)(1.6,17)(1.8,19.5)(2,20)(2.3,21)(2.4,22)(4.2,18)(6.6,21.5)(1.2,-18.5)(1.25,-18)(1.5,-18)(4.2,-25.5)(1.15,-34.5)(1.25,18)(1.7,17.5)};
\addplot[ob] coordinates {(1.02,35.5)(1.02,31.5)(1.06,31)(0.99,27)(1.25,27.5)(1.55,25)(2.6,23.5)(3.1,22)(1.0,-24.5)(1.12,-24)(1.6,-22.5)(9.7,-23.2)(10.5,-22.8)};
\end{axis}
\end{tikzpicture}
\end{document}
